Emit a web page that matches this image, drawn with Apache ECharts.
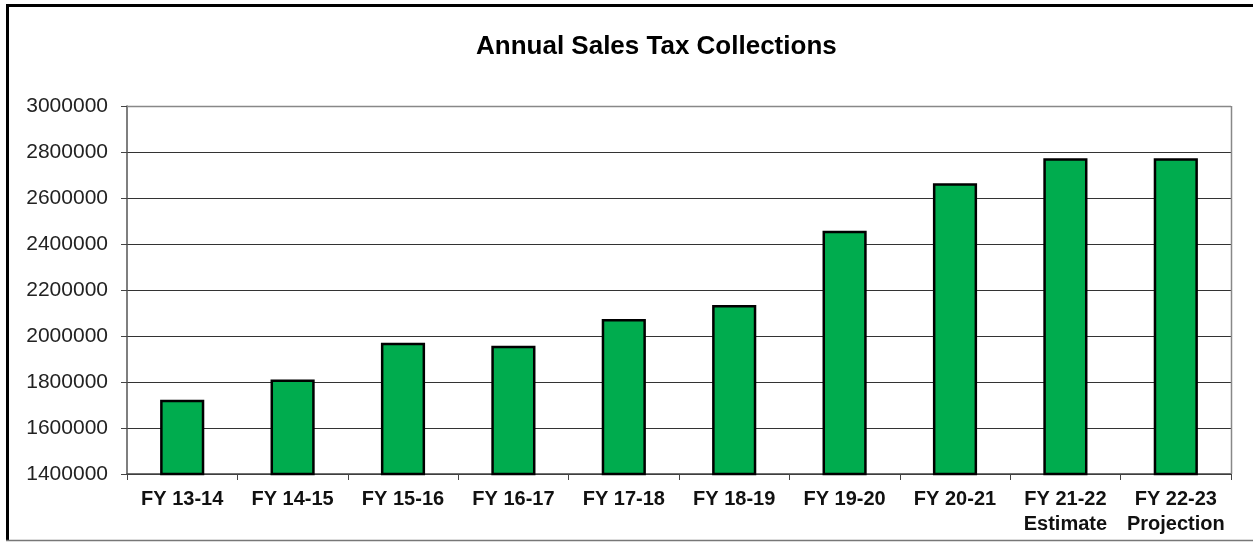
<!DOCTYPE html>
<html>
<head>
<meta charset="utf-8">
<script src="https://cdn.jsdelivr.net/npm/echarts@6/dist/echarts.min.js"></script>
<style>
html,body{margin:0;padding:0;background:#fff;}
#c{width:1253px;height:542px;}
</style>
</head>
<body>
<div id="c"></div>
<script>
var categories = ['FY 13-14','FY 14-15','FY 15-16','FY 16-17','FY 17-18','FY 18-19','FY 19-20','FY 20-21','FY 21-22\nEstimate','FY 22-23\nProjection'];
var collections = [1723000,1811000,1971000,1958000,2074000,2135000,2458000,2664000,2773000,2773000];
var yMin = 1400000, yMax = 3000000, yStep = 200000;

var chart = echarts.init(document.getElementById('c'));
chart.setOption({
  animation:false,
  backgroundColor:'#fff',
  title:{
    text:'Annual Sales Tax Collections',
    left:471, top:29,
    textStyle:{fontFamily:'Liberation Sans, Arial', fontSize:26, fontWeight:'bold', color:'#000'}
  },
  graphic:[
    {type:'line', shape:{x1:6,y1:5.5,x2:1253,y2:5.5}, style:{stroke:'#000',lineWidth:3}, z:100},
    {type:'line', shape:{x1:7.5,y1:4,x2:7.5,y2:541}, style:{stroke:'#000',lineWidth:3}, z:100},
    {type:'line', shape:{x1:6,y1:540.5,x2:1253,y2:540.5}, style:{stroke:'#777',lineWidth:1.5}, z:100},
    {type:'line', shape:{x1:1231.5,y1:106,x2:1231.5,y2:474}, style:{stroke:'#888',lineWidth:1.5}, z:100},
    {type:'line', shape:{x1:127,y1:106.5,x2:1231,y2:106.5}, style:{stroke:'#888',lineWidth:1.5}, z:100}
  ],
  grid:{left:127, right:22, top:106, bottom:68, containLabel:false},
  xAxis:{
    type:'category', data:categories,
    axisLine:{lineStyle:{color:'#444',width:1.5}},
    axisTick:{show:true, length:6, lineStyle:{color:'#444'}},
    axisLabel:{fontFamily:'Liberation Sans, Arial', fontSize:20, fontWeight:'bold', color:'#111', margin:13, lineHeight:25, interval:0}
  },
  yAxis:{
    type:'value', min:yMin, max:yMax, interval:yStep,
    axisLine:{show:true, lineStyle:{color:'#555',width:1.5}},
    axisTick:{show:true, length:6, lineStyle:{color:'#444'}},
    splitLine:{lineStyle:{color:'#333',width:1}},
    axisLabel:{fontFamily:'Liberation Sans, Arial', fontSize:21, color:'#222', margin:19,
      formatter:function(v){return String(v);}}
  },
  series:[{
    type:'bar', data:collections, barWidth:'40%',
    itemStyle:{color:'#00AC4E', borderColor:'#000', borderWidth:2.5}
  }]
});
</script>
</body>
</html>
